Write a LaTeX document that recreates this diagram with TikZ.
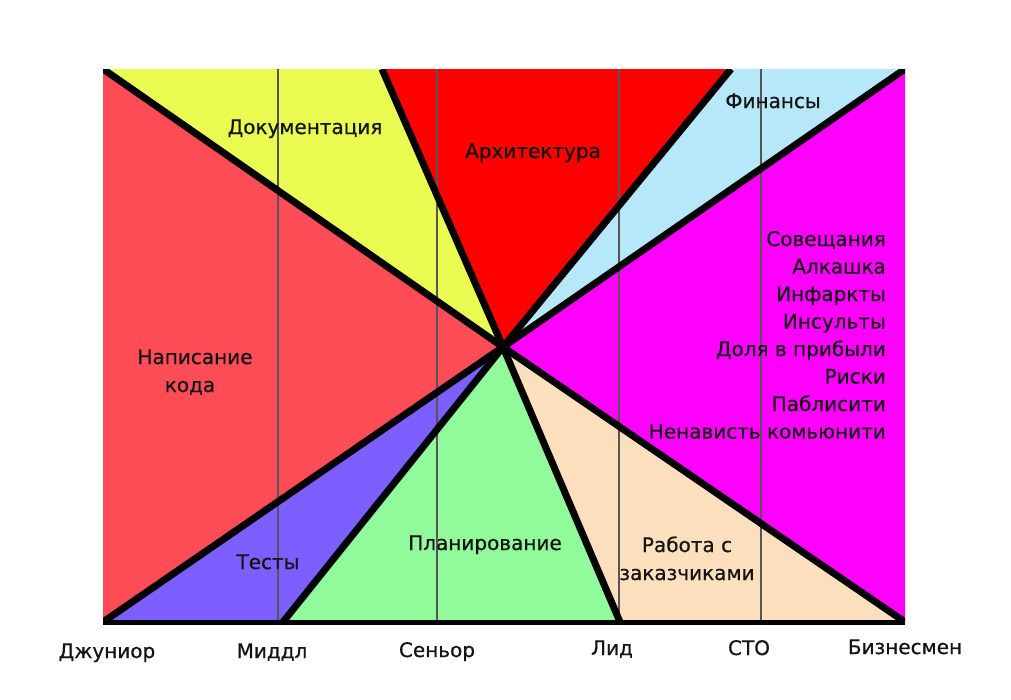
\documentclass[tikz,border=0pt]{standalone}
\usepackage{fontspec}
\setmainfont{DejaVu Sans}[FakeBold=0.6]
\definecolor{cCode}{RGB}{255,77,87}
\definecolor{cDoc}{RGB}{234,252,82}
\definecolor{cArch}{RGB}{255,0,0}
\definecolor{cFin}{RGB}{183,232,250}
\definecolor{cMag}{RGB}{255,0,255}
\definecolor{cCust}{RGB}{252,224,190}
\definecolor{cPlan}{RGB}{145,250,155}
\definecolor{cTest}{RGB}{125,95,255}
\definecolor{cGrid}{RGB}{85,85,85}
\tikzset{
  ray/.style={line width=7pt, black},
  grid/.style={line width=1.3pt, cGrid},
  lbl/.style={anchor=base, inner sep=0pt, font=\fontsize{20}{24}\selectfont, text=black!92},
  rlbl/.style={lbl, anchor=base east},
}
\begin{document}
\begin{tikzpicture}[x=1pt,y=-1pt]
\useasboundingbox (0,0) rectangle (1011,699);
% key points
\coordinate (C) at (503,347);
\coordinate (TL) at (103,69);
\coordinate (T1) at (382,69);
\coordinate (T2) at (731,69);
\coordinate (TR) at (905,69);
\coordinate (BR) at (905,622);
\coordinate (B2) at (620,622);
\coordinate (B1) at (283,622);
\coordinate (BL) at (103,622);
% sectors
\fill[cCode] (C) -- (TL) -- (BL) -- cycle;
\fill[cDoc] (C) -- (TL) -- (T1) -- cycle;
\fill[cArch] (C) -- (T1) -- (T2) -- cycle;
\fill[cFin] (C) -- (T2) -- (TR) -- cycle;
\fill[cMag] (C) -- (TR) -- (BR) -- cycle;
\fill[cCust] (C) -- (BR) -- (B2) -- cycle;
\fill[cPlan] (C) -- (B2) -- (B1) -- cycle;
\fill[cTest] (C) -- (B1) -- (BL) -- cycle;
% thin verticals
\foreach \x/\n in {278/g1,437/g2,619/g3,761/g4}{
  \coordinate (\n t) at (\x,69);
  \coordinate (\n b) at (\x,622);
  \draw[grid] (\n t) -- (\n b);
}
% rays
\begin{scope}
\clip (TL) rectangle (BR);
\foreach \p in {TL,T1,T2,TR,BR,B2,B1,BL}{
  \draw[ray] (C) -- (\p);
}
\end{scope}
\draw[line width=5pt] (BL) -- (BR);
% labels
\node[lbl] (doc) at (305,134) {Документация};
\node[lbl] (arch) at (533,158) {Архитектура};
\node[lbl] (fin) at (773,108) {Финансы};
\node[lbl] (code1) at (195,364) {Написание};
\node[lbl] (code2) at (190,392) {кода};
\node[lbl] (test) at (268,569) {Тесты};
\node[lbl] (plan) at (485,550) {Планирование};
\node[lbl] (cust1) at (687,552) {Работа с};
\node[lbl] (cust2) at (687,580) {заказчиками};
\node[rlbl] (m1) at (886,246) {Совещания};
\node[rlbl] (m2) at (886,273.5) {Алкашка};
\node[rlbl] (m3) at (886,301) {Инфаркты};
\node[rlbl] (m4) at (886,328.5) {Инсульты};
\node[rlbl] (m5) at (886,356) {Доля в прибыли};
\node[rlbl] (m6) at (886,383.5) {Риски};
\node[rlbl] (m7) at (886,411) {Паблисити};
\node[rlbl] (m8) at (886,438.5) {Ненависть комьюнити};
% axis labels
\node[lbl] (a1) at (107,658) {Джуниор};
\node[lbl] (a2) at (272,658) {Миддл};
\node[lbl] (a3) at (437,657) {Сеньор};
\node[lbl] (a4) at (612,655) {Лид};
\node[lbl] (a5) at (749,655) {СТО};
\node[lbl] (a6) at (905,654) {Бизнесмен};
\end{tikzpicture}
\end{document}
